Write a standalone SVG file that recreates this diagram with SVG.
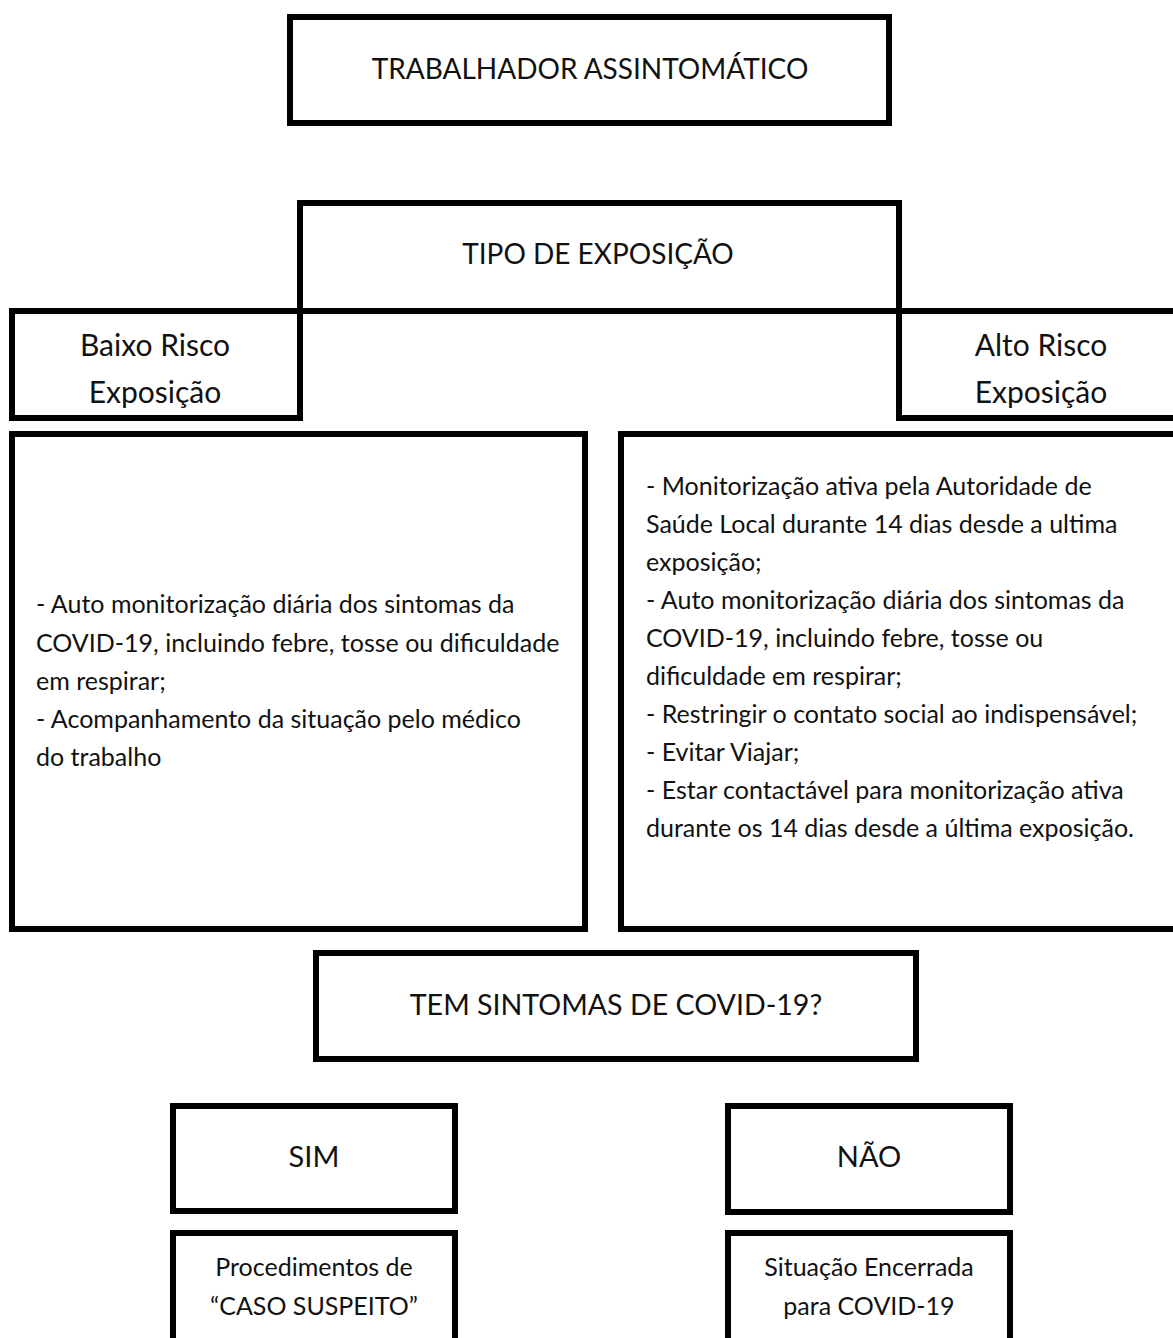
<svg xmlns="http://www.w3.org/2000/svg" width="1173" height="1338" viewBox="0 0 1173 1338">
<style>
.box{fill:none;stroke:#000;stroke-width:6}
.t{font-family:Lato,"Open Sans","Liberation Sans",sans-serif;fill:#111}
.big{font-size:28px;text-anchor:middle}
.mid{font-size:30px;text-anchor:middle}
.body{font-size:25px}
.sm{font-size:25px;text-anchor:middle}
</style>
<rect width="1173" height="1338" fill="#fff"/>
<g id="trabalhador">
<rect class="box" x="290" y="17" width="599" height="106"/>
<text class="t big" x="590" y="79">TRABALHADOR ASSINTOMÁTICO</text>
</g>
<g id="tipo">
<rect class="box" x="300" y="203" width="599" height="108"/>
<text class="t big" x="598" y="264">TIPO DE EXPOSIÇÃO</text>
</g>
<g id="baixo">
<rect class="box" x="12" y="311" width="288" height="107"/>
<text class="t mid" x="155" y="356">Baixo Risco</text>
<text class="t mid" x="155" y="403">Exposição</text>
</g>
<g id="alto">
<rect class="box" x="899" y="311" width="290" height="107"/>
<text class="t mid" x="1041" y="356">Alto Risco</text>
<text class="t mid" x="1041" y="403">Exposição</text>
</g>
<g id="baixo-medidas">
<rect class="box" x="12" y="434" width="573" height="495"/>
<text class="t body" x="36" y="613">- Auto monitorização diária dos sintomas da</text>
<text class="t body" x="36" y="652">COVID-19, incluindo febre, tosse ou dificuldade</text>
<text class="t body" x="36" y="690">em respirar;</text>
<text class="t body" x="36" y="728">- Acompanhamento da situação pelo médico</text>
<text class="t body" x="36" y="766">do trabalho</text>
</g>
<g id="alto-medidas">
<rect class="box" x="621" y="434" width="570" height="495"/>
<text class="t body" x="646" y="495">- Monitorização ativa pela Autoridade de</text>
<text class="t body" x="646" y="533">Saúde Local durante 14 dias desde a ultima</text>
<text class="t body" x="646" y="571">exposição;</text>
<text class="t body" x="646" y="609">- Auto monitorização diária dos sintomas da</text>
<text class="t body" x="646" y="647">COVID-19, incluindo febre, tosse ou</text>
<text class="t body" x="646" y="685">dificuldade em respirar;</text>
<text class="t body" x="646" y="723">- Restringir o contato social ao indispensável;</text>
<text class="t body" x="646" y="761">- Evitar Viajar;</text>
<text class="t body" x="646" y="799">- Estar contactável para monitorização ativa</text>
<text class="t body" x="646" y="837">durante os 14 dias desde a última exposição.</text>
</g>
<g id="sintomas">
<rect class="box" x="316" y="953" width="600" height="106"/>
<text class="t big" x="616" y="1015" style="font-size:28.6px">TEM SINTOMAS DE COVID-19?</text>
</g>
<g id="sim">
<rect class="box" x="173" y="1106" width="282" height="105"/>
<text class="t big" x="314" y="1167" style="font-size:29px">SIM</text>
</g>
<g id="nao">
<rect class="box" x="728" y="1106" width="282" height="106"/>
<text class="t big" x="869" y="1167" style="font-size:29px">NÃO</text>
</g>
<g id="caso-suspeito">
<rect class="box" x="173" y="1233" width="282" height="130"/>
<text class="t sm" x="314" y="1276">Procedimentos de</text>
<text class="t sm" x="314" y="1315">“CASO SUSPEITO”</text>
</g>
<g id="encerrada">
<rect class="box" x="728" y="1233" width="282" height="130"/>
<text class="t sm" x="869" y="1276">Situação Encerrada</text>
<text class="t sm" x="869" y="1315">para COVID-19</text>
</g>
<g id="connectors"/>
</svg>
